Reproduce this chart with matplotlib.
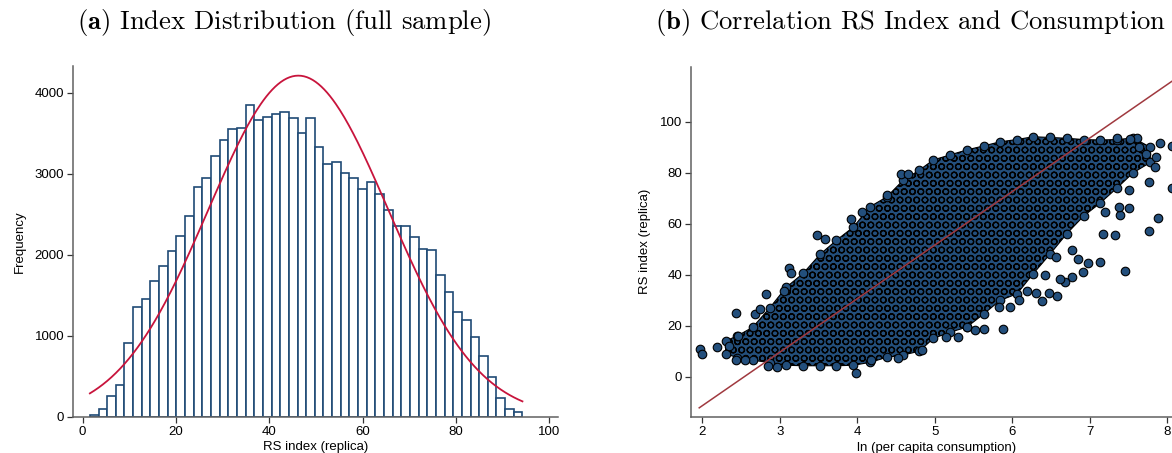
import numpy as np
import matplotlib
matplotlib.use("Agg")
import matplotlib.pyplot as plt

plt.rcParams['font.family'] = ['Liberation Sans', 'DejaVu Sans']
plt.rcParams['mathtext.fontset'] = 'cm'
plt.rcParams['hatch.linewidth'] = 0.9

# ---- panel (a): histogram of RS index ----
bin_start = 1.56
bin_width = 1.853
hist_counts = [20, 90, 255, 387, 906, 1358, 1449, 1679, 1864, 2046,
               2227, 2482, 2840, 2951, 3222, 3424, 3556, 3568, 3856, 3659,
               3708, 3741, 3758, 3688, 3502, 3684, 3333, 3123, 3140, 3008,
               2943, 2811, 2901, 2749, 2548, 2350, 2350, 2222, 2074, 2054,
               1746, 1536, 1293, 1190, 988, 749, 494, 227, 95, 54]

# ---- panel (b): RS index vs ln consumption ----
# dense core of the cloud (outline)
cloud_x = [2.30, 2.45, 2.65, 2.87, 3.08, 3.30, 3.52, 3.73, 3.95, 4.16, 4.38, 4.59, 4.80,
           4.98, 5.20, 5.41, 5.63, 5.84, 6.06, 6.27, 6.49, 6.70, 6.92, 7.13, 7.35, 7.56, 7.78]
cloud_top = [14, 16, 19.4, 27, 35, 40.5, 48, 53.5, 58.7, 66.6, 70.5, 77, 81,
             85, 87, 88.9, 90.5, 92.1, 93, 94.1, 93.8, 93.5, 93, 92.8, 93, 93.6, 90]
cloud_bottom = [9, 7.5, 6.5, 5.5, 4.5, 4.3, 4.3, 4.3, 4.5, 5.6, 7.6, 8.5, 10,
                15, 17.5, 19.4, 24.6, 29.9, 32.5, 40.4, 48.2, 56, 63, 68, 74, 80, 84]
# scattered single households
out_x = [1.97, 2.00, 2.19, 2.34, 2.43, 2.44, 2.55, 2.46, 2.68, 2.74, 2.82, 2.85, 2.96,
         3.05, 3.12, 3.15, 3.48, 3.58, 3.92, 4.06, 3.98, 4.53, 4.56, 4.65, 4.38, 4.17,
         5.88, 7.45, 7.76, 7.88, 8.06, 7.91, 8.06, 7.50, 7.39, 7.13, 6.98, 6.91, 6.77,
         6.68, 6.61, 6.58, 6.47, 6.38, 6.30, 6.19, 6.42, 6.56, 6.77, 6.85, 6.09, 5.97,
         5.83, 5.63, 5.52, 5.41, 5.15, 5.30, 4.83, 7.32, 7.17, 7.20, 7.38, 7.50, 7.76,
         7.84, 7.86, 7.73, 7.63, 7.61, 7.52, 7.35]
out_y = [10.9, 8.9, 11.5, 12.2, 25.0, 6.6, 6.6, 16.1, 24.4, 26.6, 32.5, 4.3, 3.9,
         33.8, 42.7, 40.6, 55.4, 54.1, 61.7, 64.6, 1.4, 7.2, 79.3, 79.3, 71.2, 6.7,
         18.7, 41.3, 57.1, 62.4, 73.8, 91.5, 90.4, 66.3, 63.3, 44.9, 44.7, 40.9, 39.0,
         37.1, 38.4, 31.5, 32.9, 29.6, 32.9, 33.8, 39.7, 46.9, 49.5, 46.3, 30.2, 27.5,
         27.3, 18.7, 18.4, 19.4, 15.5, 15.5, 10.5, 55.4, 56.1, 64.6, 66.6, 73.1, 76.4,
         82.1, 86.0, 87.3, 89.9, 93.5, 93.1, 93.5]
# fitted line end points
fit_x = [1.96, 8.10]
fit_y = [-12.2, 116.7]

navy = '#1f4a75'
dot = '#234f7c'
spine_col = '#606060'

fig = plt.figure(figsize=(11.72, 4.53), dpi=100)
ax1 = fig.add_axes([0.0625, 0.080, 0.4135, 0.774])
ax2 = fig.add_axes([0.5896, 0.080, 0.4104, 0.773])

# histogram
counts = np.array(hist_counts, dtype=float)
edges = bin_start + bin_width * np.arange(len(counts) + 1)
ax1.bar(edges[:-1], counts, width=bin_width, align='edge', facecolor='white',
        edgecolor=navy, linewidth=1.2)
centers = (edges[:-1] + edges[1:]) / 2
n = counts.sum()
mu = (centers * counts).sum() / n
sd = np.sqrt(((centers - mu) ** 2 * counts).sum() / n)
xs = np.linspace(edges[0], edges[-1], 300)
ax1.plot(xs, n * bin_width / (sd * np.sqrt(2 * np.pi)) * np.exp(-0.5 * ((xs - mu) / sd) ** 2),
         color='#c8143c', linewidth=1.3)
ax1.set_xlim(-2, 101.8)
ax1.set_ylim(0, 4330)
ax1.set_xticks([0, 20, 40, 60, 80, 100])
ax1.set_yticks([0, 1000, 2000, 3000, 4000])
ax1.set_xlabel('RS index (replica)', fontsize=9.5, labelpad=2)
ax1.set_ylabel('Frequency', fontsize=9.5, labelpad=6)

# scatter
ax2.fill_between(cloud_x, cloud_bottom, cloud_top, facecolor=dot, edgecolor='black',
                 linewidth=0.8, hatch='OO', zorder=2)
ax2.scatter(cloud_x + cloud_x, cloud_top + cloud_bottom, s=38, facecolor=dot,
            edgecolor='black', linewidth=0.8, zorder=3)
ax2.scatter(out_x, out_y, s=38, facecolor=dot, edgecolor='black', linewidth=0.8,
            zorder=3, clip_on=False)
ax2.plot(fit_x, fit_y, color='#a0393f', linewidth=1.1, zorder=4)
ax2.set_xlim(1.854, 8.06)
ax2.set_ylim(-15.7, 121.6)
ax2.set_xticks([2, 3, 4, 5, 6, 7, 8])
ax2.set_yticks([0, 20, 40, 60, 80, 100])
ax2.set_xlabel('ln (per capita consumption)', fontsize=9.5, labelpad=2)
ax2.xaxis.set_label_coords(0.511, -0.072)
ax2.set_ylabel('RS index (replica)', fontsize=9.5, labelpad=6)

for ax in (ax1, ax2):
    for s in ('top', 'right'):
        ax.spines[s].set_visible(False)
    for s in ('left', 'bottom'):
        ax.spines[s].set_color(spine_col)
        ax.spines[s].set_linewidth(1.1)
    ax.tick_params(direction='out', length=4.5, width=0.9, color='#333333',
                   labelsize=9.5, pad=2)

fig.text(0.2423, 0.951, r'$\mathbf{(a)}$ Index Distribution (full sample)',
         fontfamily='cmr10', fontsize=19.2, ha='center', va='center')
fig.text(0.7765, 0.951, r'$\mathbf{(b)}$ Correlation RS Index and Consumption',
         fontfamily='cmr10', fontsize=19.2, ha='center', va='center')

fig.savefig('out.png', dpi=100)
